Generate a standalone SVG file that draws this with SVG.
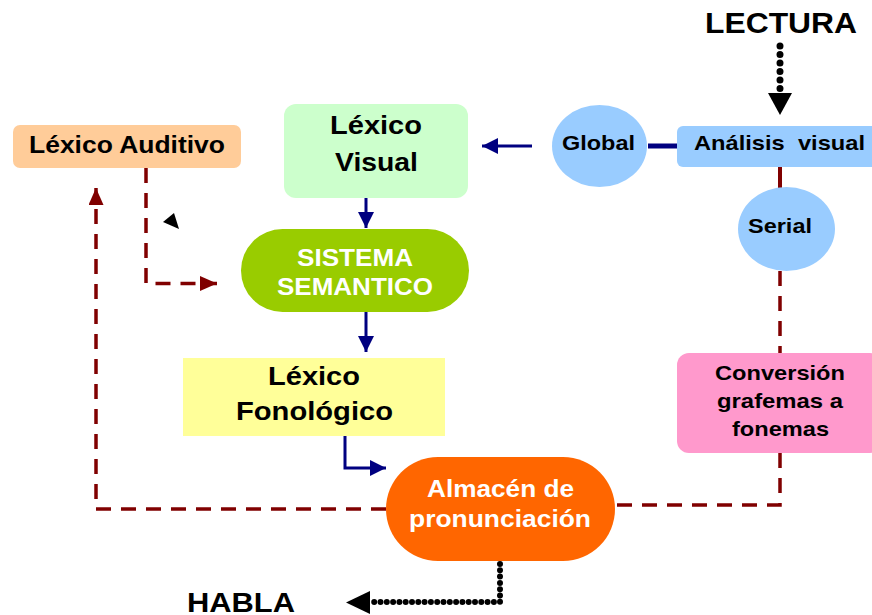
<svg xmlns="http://www.w3.org/2000/svg" width="872" height="615" viewBox="0 0 872 615">
<defs>
<style>
text{font-family:"Liberation Sans",Arial,sans-serif;font-weight:bold;text-anchor:middle;fill:#000}
.w{fill:#fff}
.blue{stroke:#000080;fill:none;stroke-width:3}
.red{stroke:#800000;fill:none;stroke-width:3.5;stroke-dasharray:15 10}
.dot{stroke:#000;fill:none;stroke-linecap:round}
</style>
<marker id="ab" markerUnits="userSpaceOnUse" viewBox="0 0 16 16" refX="16" refY="8" markerWidth="16" markerHeight="16" orient="auto"><path d="M0,0 L16,8 L0,16 z" fill="#000080"/></marker>
<marker id="ar" markerUnits="userSpaceOnUse" viewBox="0 0 17 15" refX="17" refY="7.5" markerWidth="17" markerHeight="15" orient="auto"><path d="M0,0 L17,7.5 L0,15 z" fill="#800000"/></marker>
</defs>
<g id="connectors">
<path class="dot" d="M780,46 V90" stroke-width="7" stroke-dasharray="0 8.5"/>
<polygon points="768,93 792,93 780,115" fill="#000"/>
<path class="dot" d="M500,564 V602 H372" stroke-width="6" stroke-dasharray="0 6.3"/>
<polygon points="370,591 370,614 346,602.5" fill="#000"/>
<line x1="648" y1="146" x2="677" y2="146" stroke="#000080" stroke-width="5"/>
<line class="blue" x1="532" y1="146" x2="482" y2="146" marker-end="url(#ab)"/>
<line class="blue" x1="366" y1="198" x2="366" y2="228" marker-end="url(#ab)"/>
<line class="blue" x1="366" y1="312" x2="366" y2="352" marker-end="url(#ab)"/>
<path class="blue" d="M345,436 V468 H386" marker-end="url(#ab)"/>
<line x1="780" y1="167" x2="780" y2="190" stroke="#800000" stroke-width="4"/>
<path class="red" d="M780,271 V353"/>
<path class="red" d="M780,453 V505 H614"/>
<path class="red" d="M386,509 H96 V188" marker-end="url(#ar)"/>
<path class="red" d="M146,168 V283.5 H217" marker-end="url(#ar)"/>
<polygon points="163,222 174,213 179,229" fill="#000"/>
</g>
<g id="lectura"><text x="781" y="33" font-size="29" textLength="152" lengthAdjust="spacingAndGlyphs">LECTURA</text></g>
<g id="habla"><text x="241" y="612" font-size="28" textLength="108" lengthAdjust="spacingAndGlyphs">HABLA</text></g>
<g id="analisis-visual">
<rect x="677" y="126" width="205" height="41" rx="6" fill="#99CCFF"/>
<text x="779.5" y="150" font-size="21" textLength="171" lengthAdjust="spacingAndGlyphs" xml:space="preserve">Análisis  visual</text>
</g>
<g id="global">
<ellipse cx="599.5" cy="146" rx="47.5" ry="41" fill="#99CCFF"/>
<text x="598.5" y="150" font-size="21" textLength="73" lengthAdjust="spacingAndGlyphs">Global</text>
</g>
<g id="serial">
<ellipse cx="786.5" cy="229" rx="48.5" ry="42" fill="#99CCFF"/>
<text x="780" y="233" font-size="21" textLength="64" lengthAdjust="spacingAndGlyphs">Serial</text>
</g>
<g id="conversion">
<rect x="677" y="353" width="205" height="100" rx="12" fill="#FF99CC"/>
<text x="780" y="380" font-size="21" textLength="130" lengthAdjust="spacingAndGlyphs">Conversión</text>
<text x="780" y="408" font-size="21" textLength="126" lengthAdjust="spacingAndGlyphs">grafemas a</text>
<text x="780.5" y="436" font-size="21" textLength="97" lengthAdjust="spacingAndGlyphs">fonemas</text>
</g>
<g id="lexico-auditivo">
<rect x="13" y="125" width="228" height="43" rx="7" fill="#FFCC99"/>
<text x="127" y="153" font-size="24" textLength="196" lengthAdjust="spacingAndGlyphs">Léxico Auditivo</text>
</g>
<g id="lexico-visual">
<rect x="284" y="104" width="184" height="94" rx="12" fill="#CCFFCC"/>
<text x="376" y="134" font-size="26" textLength="92" lengthAdjust="spacingAndGlyphs">Léxico</text>
<text x="376.5" y="171" font-size="26" textLength="83" lengthAdjust="spacingAndGlyphs">Visual</text>
</g>
<g id="sistema-semantico">
<rect x="241" y="229" width="228" height="83" rx="41.5" fill="#99CC00"/>
<text class="w" x="355" y="266" font-size="24" textLength="116" lengthAdjust="spacingAndGlyphs">SISTEMA</text>
<text class="w" x="355" y="295" font-size="24" textLength="156" lengthAdjust="spacingAndGlyphs">SEMANTICO</text>
</g>
<g id="lexico-fonologico">
<rect x="183" y="358" width="262" height="78" fill="#FFFF99"/>
<text x="314" y="385" font-size="26" textLength="92" lengthAdjust="spacingAndGlyphs">Léxico</text>
<text x="314.5" y="420" font-size="26" textLength="157" lengthAdjust="spacingAndGlyphs">Fonológico</text>
</g>
<g id="almacen">
<rect x="386" y="457" width="229" height="104" rx="52" fill="#FF6600"/>
<text class="w" x="500.5" y="497" font-size="24" textLength="147" lengthAdjust="spacingAndGlyphs">Almacén de</text>
<text class="w" x="500" y="527" font-size="24" textLength="182" lengthAdjust="spacingAndGlyphs">pronunciación</text>
</g>
</svg>
